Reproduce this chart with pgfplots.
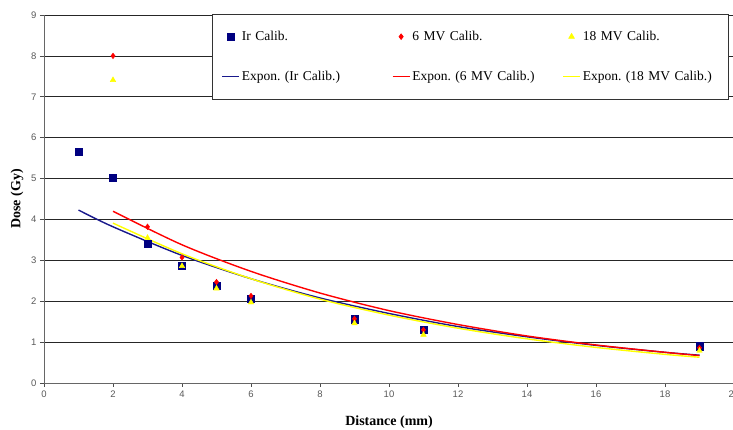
\documentclass[border=0pt]{standalone}
\usepackage{pgfplots}
\pgfplotsset{compat=1.18}
\usepackage{fontspec}
\setmainfont{Liberation Serif}
\newfontfamily\arialf{Liberation Sans}
\definecolor{irnavy}{RGB}{0,0,128}
\definecolor{irline}{RGB}{25,25,140}
\definecolor{ylw}{RGB}{255,255,0}
\definecolor{rd}{RGB}{255,0,0}
\begin{document}
\frenchspacing
\begin{tikzpicture}
\begin{axis}[name=ax,
  scale only axis, width=690pt, height=368pt,
  xmin=0, xmax=20, ymin=0, ymax=9,
  xtick={0,2,...,20}, ytick={0,1,...,9},
  axis lines=left, axis line style={black!60, -, line width=0.8pt},
  ymajorgrids, grid style={black!85, line width=0.7pt},
  tick align=outside, major tick length=4pt, tick style={black!70, line width=0.7pt},
  ticklabel style={font=\fontsize{9.5}{11}\arialf, text=black!65},
  /pgf/number format/assume math mode=true,
  xlabel={Distance (mm)}, ylabel={Dose (Gy)},
  label style={font=\fontsize{14}{16}\selectfont\bfseries},
  xlabel style={at={(axis description cs:0.5,-0.106)}, anchor=center},
  ylabel style={at={(axis description cs:-0.039,0.5)}, anchor=center},
  clip=false,
  legend columns=3,
  legend cell align=left,
  legend style={at={(0.993,1.003)}, anchor=north east, draw=black!80, line width=0.7pt,
    font=\fontsize{13.5}{15}\selectfont\frenchspacing, inner xsep=9pt, inner ysep=15pt,
    row sep=25pt, nodes={text width=135pt},
    /tikz/every even column/.append style={column sep=13pt}},
]
\addplot[only marks, mark=square*, mark size=3.6pt, color=irnavy] coordinates {
 (1,5.65) (2,5.03) (3,3.41) (4,2.86) (5,2.37) (6,2.06) (9,1.56) (11,1.30) (19,0.90)};
\addlegendentry{Ir Calib.}
\addplot[only marks, mark=diamond*, mark size=2.8pt, color=rd] coordinates {
 (2,8.00) (3,3.82) (4,3.07) (5,2.47) (6,2.13) (9,1.57) (11,1.30) (19,0.86)};
\addlegendentry{6 MV Calib.}
\addplot[only marks, mark=triangle*, mark size=3.2pt, color=ylw] coordinates {
 (2,7.41) (3,3.55) (4,2.86) (5,2.31) (6,1.97) (9,1.46) (11,1.18) (19,0.79)};
\addlegendentry{18 MV Calib.}
\addplot[irline, line width=1.4pt, smooth] coordinates {
 (1,4.23) (2,3.82) (4,3.12) (6,2.55) (8,2.08) (10,1.70) (12,1.38) (14,1.13) (16,0.92) (18,0.75) (19,0.68)};
\addlegendentry{Expon. (Ir Calib.)}
\addplot[rd, line width=1.4pt, smooth] coordinates {
 (2,4.20) (4,3.38) (6,2.73) (8,2.20) (10,1.77) (12,1.43) (14,1.15) (16,0.93) (18,0.75) (19,0.67)};
\addlegendentry{Expon. (6 MV Calib.)}
\addplot[ylw, line width=1.4pt, smooth] coordinates {
 (2,3.91) (4,3.16) (6,2.55) (8,2.05) (10,1.66) (12,1.34) (14,1.08) (16,0.87) (18,0.70) (19,0.63)};
\addlegendentry{Expon. (18 MV Calib.)}
\end{axis}
\pgfresetboundingbox
\path ([xshift=-44pt,yshift=-47pt]ax.south west) rectangle ([xshift=-1pt,yshift=15pt]ax.north east);
\end{tikzpicture}
\end{document}
